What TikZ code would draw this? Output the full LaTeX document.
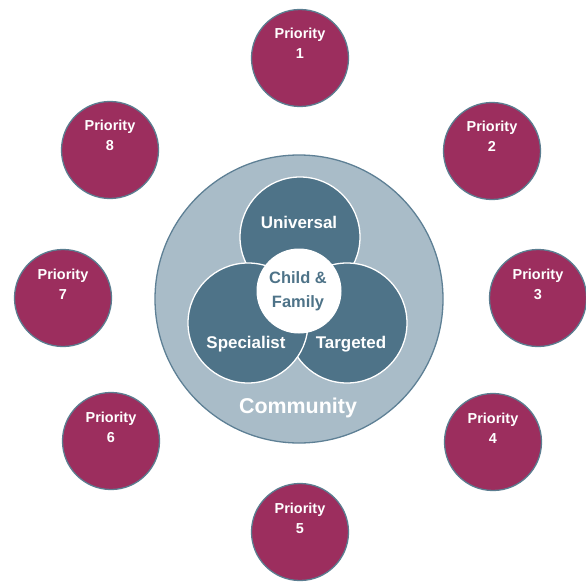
\documentclass[tikz,border=0pt]{standalone}
\usepackage{fontspec}
\setmainfont{Liberation Sans}
\definecolor{prioFill}{HTML}{9C2E5E}
\definecolor{prioEdge}{HTML}{5B7D90}
\definecolor{darkTeal}{HTML}{4E7388}
\definecolor{commFill}{HTML}{A9BCC8}
\definecolor{commEdge}{HTML}{5E8095}
\begin{document}
\begin{tikzpicture}[x=1bp,y=-1bp,
  prio/.style={circle,fill=prioFill,draw=prioEdge,line width=1.3bp,minimum size=97bp,inner sep=0pt},
  ptxt/.style={text=white,font=\fontsize{14.5}{17}\selectfont\bfseries,anchor=base,inner sep=0pt},
  ring/.style={circle,fill=darkTeal,draw=white,line width=1.3bp,minimum size=120bp,inner sep=0pt},
  itxt/.style={text=white,font=\fontsize{17}{20}\selectfont\bfseries,anchor=base,inner sep=0pt},
  ctxt/.style={text=darkTeal,font=\fontsize{16.5}{20}\selectfont\bfseries,anchor=base,inner sep=0pt}]
\useasboundingbox (0,0) rectangle (586,583);
% community
\node[circle,fill=commFill,draw=commEdge,line width=1.3bp,minimum size=288bp,inner sep=0pt] (comm) at (299,299) {};
% three service circles
\node[ring] (uni) at (300,237) {};
\node[ring] (tar) at (347,323) {};
\node[ring] (spe) at (248,323) {};
\node[circle,fill=white,draw=white,line width=1bp,minimum size=84bp,inner sep=0pt] (cf) at (299,291) {};
% texts
\node[itxt] (unit) at (299,228) {Universal};
\node[itxt] (spet) at (246,348) {Specialist};
\node[itxt] (tart) at (351,348) {Targeted};
\node[ctxt] (cft1) at (298,283) {Child \&};
\node[ctxt] (cft2) at (298,307) {Family};
\node[text=white,font=\fontsize{21.5}{24}\selectfont\bfseries,anchor=base,inner sep=0pt] (commt) at (298,413) {Community};
% priorities
\foreach \i/\x/\y in {1/300/58, 2/492/151, 3/538/298, 4/493/442, 5/300/532, 6/111/441, 7/63/298, 8/110/150} {
  \node[prio] (p\i) at (\x,\y) {};
  \node[ptxt] (p\i t) at ([yshift=19bp]p\i.center) {Priority};
  \node[ptxt] (p\i n) at ([yshift=-1bp]p\i.center) {\i};
}
\end{tikzpicture}
\end{document}
